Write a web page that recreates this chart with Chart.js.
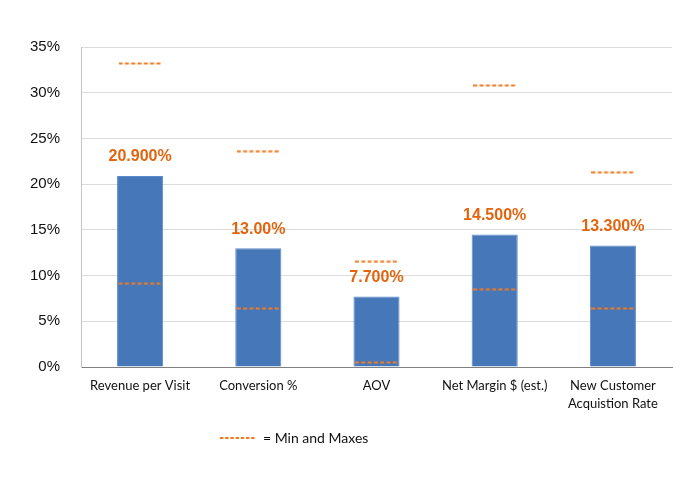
<!DOCTYPE html>
<html>
<head>
<meta charset="utf-8">
<script src="https://cdn.jsdelivr.net/npm/chart.js@4.4.1/dist/chart.umd.min.js"></script>
<style>
  html, body { margin: 0; padding: 0; background: #fff; }
  #wrap { width: 700px; height: 479px; }
</style>
</head>
<body>
<div id="wrap"><canvas id="chart" width="700" height="479"></canvas></div>
<script>
const categories = [
  "Revenue per Visit",
  "Conversion %",
  "AOV",
  "Net Margin $ (est.)",
  ["New Customer", "Acquistion Rate"],
];
const values = [20.9, 13.0, 7.7, 14.5, 13.3];
const valueLabels = ["20.900%", "13.00%", "7.700%", "14.500%", "13.300%"];
const maxValues = [33.2, 23.6, 11.5, 30.8, 21.3];
const minValues = [9.1, 6.4, 0.5, 8.5, 6.4];
const yTicks = [0, 5, 10, 15, 20, 25, 30, 35];
const legendText = "= Min and Maxes";

const orange = "#f47a22";
const labelOrange = "#e3640e";

// small dashed segment used as the point marker for the min/max series
const makeDash = (w, dash, gap) => {
  const c = document.createElement("canvas");
  c.width = w;
  c.height = 3;
  const g = c.getContext("2d");
  g.strokeStyle = orange;
  g.lineWidth = 2;
  g.setLineDash([dash, gap]);
  g.beginPath();
  g.moveTo(0, 1.5);
  g.lineTo(w, 1.5);
  g.stroke();
  return c;
};
const dashMark = makeDash(43, 4, 2.3);

const valueLabelPlugin = {
  id: "valueLabels",
  afterDatasetsDraw(chart) {
    const ctx = chart.ctx;
    const meta = chart.getDatasetMeta(0);
    ctx.save();
    ctx.font = "bold 16px 'Liberation Sans', Arial, sans-serif";
    ctx.fillStyle = labelOrange;
    ctx.textAlign = "center";
    ctx.textBaseline = "middle";
    meta.data.forEach((bar, i) => {
      ctx.fillText(valueLabels[i], bar.x, bar.y - 19);
    });
    ctx.restore();
  },
  afterDraw(chart) {
    // legend for the dashed min / max marks
    const ctx = chart.ctx;
    ctx.save();
    ctx.strokeStyle = orange;
    ctx.lineWidth = 2;
    ctx.setLineDash([3.4, 1.8]);
    ctx.beginPath();
    ctx.moveTo(220, 438);
    ctx.lineTo(255, 438);
    ctx.stroke();
    ctx.setLineDash([]);
    ctx.font = "14px Lato, 'Open Sans', sans-serif";
    ctx.fillStyle = "#111";
    ctx.textAlign = "left";
    ctx.textBaseline = "middle";
    ctx.fillText(legendText, 263, 438);
    ctx.restore();
  },
};

const ctxChart = document.getElementById("chart");
new Chart(ctxChart, {
  type: "bar",
  data: {
    labels: categories,
    datasets: [
      {
        data: values,
        backgroundColor: "#4677b8",
        borderColor: "#5a8bca",
        borderWidth: 1,
        categoryPercentage: 1,
        barPercentage: 0.39,
        order: 2,
      },
      {
        type: "line",
        data: maxValues,
        showLine: false,
        pointStyle: dashMark,
        order: 1,
      },
      {
        type: "line",
        data: minValues,
        showLine: false,
        pointStyle: dashMark,
        order: 1,
      },
    ],
  },
  options: {
    responsive: false,
    animation: false,
    layout: { padding: { top: 47, right: 28, left: 0, bottom: 0 } },
    plugins: {
      legend: { display: false },
      tooltip: { enabled: false },
    },
    scales: {
      x: {
        grid: { display: false, drawTicks: false },
        border: { color: "#808080", width: 1 },
        ticks: {
          color: "#111",
          padding: 10,
          maxRotation: 0,
          autoSkip: false,
          font: { family: "Lato, 'Open Sans', sans-serif", size: 13, lineHeight: 1.35 },
        },
        afterFit: (scale) => {
          scale.height = 112;
        },
      },
      y: {
        min: 0,
        max: 35,
        afterBuildTicks: (scale) => {
          scale.ticks = yTicks.map((v) => ({ value: v }));
        },
        grid: {
          drawTicks: false,
          color: (c) => (c.tick && c.tick.value === 0 ? "rgba(0,0,0,0)" : "#dcdcdc"),
        },
        border: { color: "#c4c4c4", width: 1 },
        ticks: {
          color: "#111",
          padding: 21,
          font: { family: "'Liberation Sans', Arial, sans-serif", size: 15 },
          callback: (v) => v + "%",
        },
        afterFit: (scale) => {
          scale.width = 81;
        },
      },
    },
  },
  plugins: [valueLabelPlugin],
});
</script>
</body>
</html>
